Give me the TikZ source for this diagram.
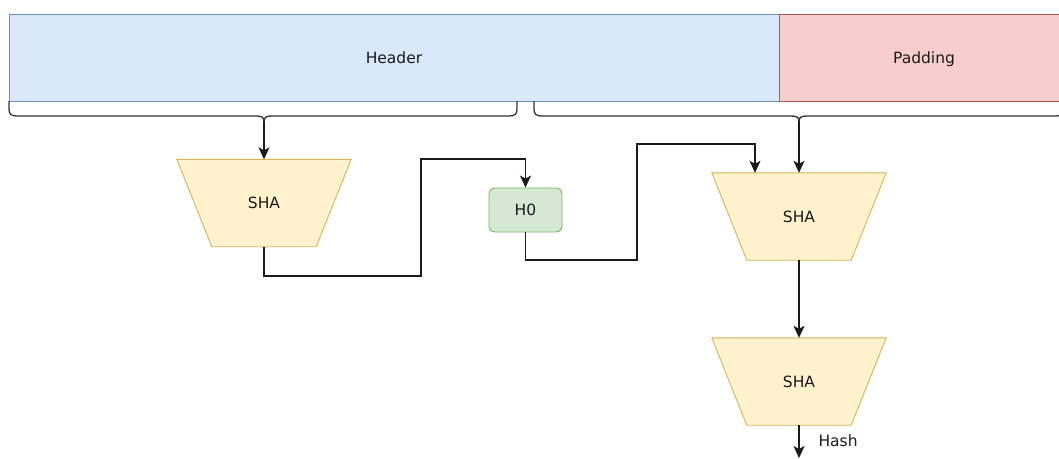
\documentclass[tikz,border=0pt]{standalone}
\usepackage{fontspec}
\setmainfont{DejaVu Sans}
\usetikzlibrary{arrows.meta,backgrounds,calc}

\definecolor{hdrfill}{HTML}{DAE8FC}
\definecolor{hdrline}{HTML}{6C8EBF}
\definecolor{padfill}{HTML}{F8CECC}
\definecolor{padline}{HTML}{B85450}
\definecolor{shafill}{HTML}{FFF2CC}
\definecolor{shaline}{HTML}{D6B656}
\definecolor{hfill}{HTML}{D5E8D4}
\definecolor{hline}{HTML}{82B366}
\definecolor{ink}{HTML}{1A1A1A}
\definecolor{bracecol}{HTML}{333333}

\tikzset{
  lbl/.style={font=\fontsize{15.5}{18}\selectfont, text=ink, text height=11pt, text depth=0pt},
  block/.style={lbl, draw, line width=0.9pt, inner sep=0pt},
  shabox/.style={lbl, minimum width=174pt, minimum height=87pt, inner sep=0pt},
  hbox/.style={block, fill=hfill, draw=hline, rounded corners=6pt, minimum width=73pt, minimum height=44pt},
  conn/.style={draw=ink, line width=1.3pt, -{Stealth[length=12pt,width=11pt,inset=3pt]}},
  brace/.style={draw=bracecol, line width=1.3pt, line join=round},
  trap/.style={fill=shafill, draw=shaline, line width=0.9pt}
}

\begin{document}
\begin{tikzpicture}[x=1pt,y=-1pt]
  \useasboundingbox (0,0) rectangle (1059,458);
  \clip (0,0) rectangle (1059,458);

  % message blocks
  \node[block, fill=hdrfill, draw=hdrline, minimum width=770pt, minimum height=87pt]
    (header) at (394,57.5) {Header};
  \node[block, fill=padfill, draw=padline, minimum width=290pt, minimum height=87pt]
    (padding) at (924,57.5) {Padding};

  % braces under the blocks
  \coordinate (lbrace) at (264,121);
  \coordinate (rbrace) at (799,121);
  \draw[brace] (9,101) -- (9,109) .. controls (9,114) and (11,116) .. (17,116)
    -- (256,116) .. controls (261,116) and (264,117) .. (lbrace)
    .. controls (264,117) and (267,116) .. (272,116)
    -- (509,116) .. controls (515,116) and (517,114) .. (517,109) -- (517,101);
  \draw[brace] (534,101) -- (534,109) .. controls (534,114) and (536,116) .. (542,116)
    -- (791,116) .. controls (796,116) and (799,117) .. (rbrace)
    .. controls (799,117) and (802,116) .. (807,116)
    -- (1056,116) .. controls (1062,116) and (1064,114) .. (1064,109) -- (1064,101);

  % hash stages
  \node[shabox] (s1) at (264,203) {SHA};
  \node[shabox] (s2) at (799,216.5) {SHA};
  \node[shabox] (s3) at (799,381.5) {SHA};
  \node[hbox] (h0) at (525.5,210) {H0};

  \begin{scope}[on background layer]
    \foreach \n in {s1,s2,s3}
      \draw[trap] (\n.north west) -- (\n.north east)
        -- ([xshift=-35pt]\n.south east) -- ([xshift=35pt]\n.south west) -- cycle;
  \end{scope}

  % connectors
  \coordinate (a1) at (421,276);
  \coordinate (a2) at (421,159);
  \coordinate (b1) at (637,260);
  \coordinate (b2) at (637,144);
  \coordinate (s2in) at ($(s2.north)+(-44,0)$);
  \coordinate (out) at (799,458);

  \draw[conn] (lbrace) -- (s1.north);
  \draw[conn] (s1.south) |- (a1) -- (a2) -| (h0.north);
  \draw[conn] (h0.south) |- (b1) -- (b2) -| (s2in);
  \draw[conn] (rbrace) -- (s2.north);
  \draw[conn] (s2.south) -- (s3.north);
  \draw[conn] (s3.south) -- (out);
  \node[lbl, anchor=west] (hash) at (815,441) {Hash};
\end{tikzpicture}
\end{document}
